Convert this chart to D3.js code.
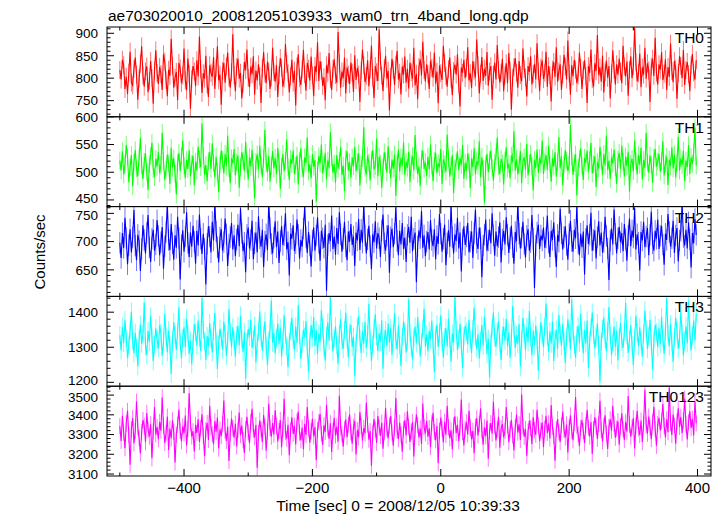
<!DOCTYPE html>
<html>
<head>
<meta charset="utf-8">
<script src="https://cdn.jsdelivr.net/npm/d3@7"></script>
<style>
  html, body { margin: 0; padding: 0; background: #fff; }
  svg { display: block; }
  text { font-family: "Liberation Sans", Arial, Helvetica, sans-serif; fill: #000; }
</style>
</head>
<body>
<svg id="chart" width="724" height="516"></svg>
<script>
// ---- data (2-s bins starting at t = -500 s) ----
const tStart = -500, tStep = 2;
const th0 = [
818,797,841,829,776,803,765,812,859,790,784,821,846,808,752,799,832,871,806,781,815,826,769,794,838,800,743,817,862,811,
787,825,809,774,853,837,796,760,819,805,888,828,779,801,814,751,834,822,789,806,866,795,773,844,810,732,798,827,815,782,
840,804,893,820,767,811,799,850,786,758,829,812,803,847,776,823,871,795,808,741,816,834,790,826,857,802,779,813,898,807,
771,825,843,799,812,755,788,836,818,864,801,780,826,809,849,763,817,795,831,804,745,822,858,811,789,837,815,776,802,868,
814,792,829,758,807,845,823,781,799,876,832,811,768,804,841,790,817,739,826,853,800,785,819,863,809,772,834,821,795,848,
806,760,827,813,880,794,838,817,783,802,751,829,811,856,798,774,821,842,807,790,903,833,779,815,800,846,766,824,808,787,
835,812,769,851,796,823,808,747,817,864,829,791,805,840,782,819,873,801,756,827,813,794,909,838,806,771,822,850,799,816,
728,803,843,819,785,830,861,797,812,764,826,808,848,790,821,777,835,813,799,868,784,810,753,825,842,806,881,818,793,831,
809,776,839,823,801,857,788,815,744,828,811,796,872,834,805,781,820,846,799,762,816,830,808,853,787,737,824,812,841,800,
823,869,795,811,778,838,817,802,886,829,766,810,847,794,821,805,858,783,815,827,752,808,835,797,874,819,790,812,843,771,
806,833,789,856,817,730,801,824,845,812,779,838,807,793,866,820,802,759,827,814,849,786,809,832,797,878,815,771,824,840,
798,812,859,781,827,806,748,819,836,803,869,792,815,831,774,808,852,826,797,884,811,763,829,804,841,819,789,806,857,823,
776,818,840,805,745,827,812,864,798,781,833,816,896,807,824,792,850,768,813,839,801,827,755,810,862,819,786,831,808,843,
815,789,872,826,804,837,761,818,849,800,827,912,835,793,811,855,780,824,808,868,799,833,817,747,826,843,805,890,812,786,
831,819,858,796,810,842,774,825,803,877,816,791,838,821,754,812,849,827,800,863,785,818,836,809,771,829,854,813,797,840
];
const th1 = [
521,503,538,496,514,549,527,482,509,531,475,518,540,507,493,526,562,512,488,519,534,501,468,515,529,553,506,491,524,510,
537,498,513,571,520,486,505,532,516,479,544,508,525,497,460,517,535,502,528,557,511,489,522,506,540,493,514,530,476,519,
503,546,523,509,588,531,495,513,484,520,537,506,552,517,490,528,501,465,514,539,522,498,533,511,566,507,480,525,516,542,
494,518,530,472,509,536,521,502,555,515,487,527,510,541,499,453,519,532,505,548,513,491,524,576,516,500,529,483,512,538,
507,526,496,544,518,470,511,533,502,521,559,509,486,524,515,539,497,512,530,478,520,543,506,492,527,517,563,501,514,489,
533,510,522,447,504,529,516,550,498,513,535,487,521,508,572,526,499,515,481,531,507,520,545,495,512,466,524,538,503,518,
490,527,511,546,502,519,534,476,513,525,581,508,496,530,517,485,522,540,505,511,561,493,528,515,471,509,536,520,499,547,
514,489,523,506,532,457,517,541,501,526,512,554,495,519,508,537,482,516,529,503,567,521,497,510,475,524,539,506,518,493,
528,505,550,512,484,521,535,498,516,509,542,479,523,514,501,568,525,492,511,531,462,507,519,538,504,526,513,549,488,517,
502,534,518,471,525,509,543,496,520,512,556,491,527,506,445,514,533,500,522,539,508,485,517,529,562,511,497,524,516,478,
521,545,507,515,489,530,518,574,503,524,496,513,538,480,519,527,505,551,494,516,533,510,467,522,508,541,499,526,514,557,
497,519,531,504,548,515,483,525,510,536,492,518,563,507,529,476,514,540,521,502,513,585,528,495,517,532,458,509,524,543,
511,486,526,517,539,501,522,553,498,514,529,473,518,507,546,520,495,533,512,566,504,521,488,527,516,541,509,479,523,535,
506,548,519,492,528,511,537,465,515,524,502,557,520,496,531,513,544,487,522,508,571,517,499,530,514,481,526,542,510,519,
533,501,520,556,494,516,528,477,523,511,545,507,532,490,518,564,503,525,513,539,484,521,509,549,497,527,515,536,580,512
];
const th2 = [
698,671,715,689,742,706,660,694,722,681,708,756,693,667,712,701,648,687,729,703,679,716,747,690,664,705,721,684,695,738,
710,676,699,726,652,692,717,766,703,685,731,697,668,711,689,744,706,633,694,720,682,709,752,698,673,716,691,728,700,661,
719,693,748,705,678,714,687,624,696,727,709,681,735,702,770,718,690,663,707,722,684,699,741,713,657,695,708,733,686,711,
674,704,730,692,759,715,683,698,646,712,725,688,703,737,669,697,716,681,745,706,691,721,655,700,713,685,768,724,696,679,
707,736,690,718,662,701,727,694,711,750,686,699,640,714,705,729,683,697,739,712,670,703,691,723,762,708,680,717,693,656,
702,725,684,711,743,698,666,719,706,689,730,613,694,715,701,746,687,709,677,724,696,752,713,682,705,735,691,667,718,700,
731,694,709,657,716,702,740,685,721,698,767,711,679,704,728,692,651,713,699,736,688,715,706,673,720,748,697,684,710,729,
645,708,723,690,714,761,701,676,719,695,733,687,707,664,712,726,698,744,683,705,716,628,692,720,706,754,689,711,674,700,
717,686,738,703,692,722,669,710,696,749,714,682,705,730,658,697,720,691,764,708,679,713,701,742,688,716,647,704,727,694,
709,733,681,700,718,671,715,757,698,687,725,706,637,693,712,739,684,702,721,697,750,711,675,718,692,708,734,663,704,719,
695,743,712,680,706,728,690,661,717,701,769,714,688,707,735,696,672,710,722,684,699,747,705,618,693,716,730,687,711,702,
725,689,707,746,698,673,719,703,734,691,655,712,700,758,715,686,708,727,694,668,713,737,701,682,721,706,763,697,676,714,
690,718,642,705,729,696,712,751,684,703,720,670,708,736,693,716,681,699,744,710,688,632,702,723,695,757,714,679,706,726,
699,715,683,731,704,666,711,741,692,720,707,760,686,713,698,649,717,702,735,690,709,724,676,712,753,697,684,719,705,739,
687,710,728,695,659,714,703,749,717,691,706,737,680,711,724,665,702,719,766,708,693,721,688,734,704,654,715,697,740,712
];
const th3 = [
1334,1291,1358,1312,1377,1326,1269,1305,1349,1402,1318,1283,1341,1299,1246,1323,1365,1310,1337,1428,1302,1279,1346,1315,1388,1331,1260,1308,1354,1322,
1297,1363,1340,1275,1316,1395,1329,1286,1348,1307,1224,1319,1371,1335,1292,1344,1414,1313,1268,1326,1357,1301,1382,1338,1281,1320,1252,1311,1366,1342,
1305,1376,1328,1289,1441,1350,1317,1264,1332,1303,1369,1325,1285,1346,1398,1314,1238,1309,1353,1327,1294,1373,1339,1276,1318,1409,1344,1300,1357,1321,
1272,1335,1361,1306,1390,1324,1287,1343,1210,1315,1352,1330,1379,1298,1322,1362,1257,1311,1345,1402,1328,1290,1336,1374,1304,1249,1319,1351,1433,1313,
1341,1282,1326,1368,1309,1355,1273,1320,1392,1337,1301,1243,1316,1347,1384,1322,1293,1359,1312,1420,1334,1267,1308,1350,1329,1375,1296,1231,1318,1363,
1327,1386,1304,1349,1280,1339,1314,1406,1356,1298,1262,1333,1371,1319,1446,1343,1288,1325,1360,1306,1253,1338,1381,1317,1295,1348,1399,1323,1271,1342,
1364,1301,1330,1218,1312,1358,1389,1326,1283,1345,1310,1372,1297,1336,1424,1320,1261,1307,1353,1394,1331,1289,1340,1316,1377,1239,1324,1349,1303,1368,
1313,1355,1278,1338,1397,1321,1294,1362,1306,1247,1329,1373,1344,1285,1318,1436,1340,1299,1265,1327,1359,1311,1386,1333,1274,1315,1352,1410,1302,1337,
1288,1346,1322,1376,1308,1229,1334,1365,1300,1341,1391,1317,1270,1328,1355,1303,1382,1324,1259,1339,1314,1448,1350,1292,1323,1367,1306,1240,1331,1361,
1344,1309,1378,1321,1284,1352,1413,1330,1296,1337,1268,1318,1363,1305,1387,1342,1280,1325,1213,1311,1356,1399,1328,1301,1345,1374,1312,1263,1334,1358,
1319,1381,1302,1343,1270,1326,1417,1351,1298,1335,1310,1366,1245,1322,1384,1340,1291,1357,1314,1403,1329,1277,1347,1305,1362,1320,1233,1316,1371,1336,
1300,1358,1425,1332,1287,1345,1310,1373,1261,1323,1350,1296,1392,1339,1304,1366,1316,1255,1328,1380,1341,1293,1437,1348,1307,1270,1334,1361,1313,1395,
1325,1283,1349,1311,1376,1241,1320,1355,1399,1336,1297,1330,1368,1306,1202,1317,1352,1385,1324,1289,1346,1415,1333,1277,1314,1359,1301,1348,1262,1329,
1370,1316,1298,1344,1427,1335,1284,1322,1363,1307,1249,1326,1390,1341,1303,1357,1318,1273,1338,1405,1350,1295,1331,1378,1312,1236,1320,1364,1342,1300,
1355,1309,1387,1326,1281,1345,1442,1337,1302,1366,1314,1258,1329,1384,1348,1296,1323,1401,1339,1276,1318,1360,1311,1431,1347,1290,1333,1376,1320,1395
];
const th0123 = [
3342,3268,3395,3310,3231,3356,3420,3298,3147,3327,3384,3255,3318,3467,3336,3282,3204,3312,3373,3345,3261,3409,3325,3290,3352,3180,3316,3440,3301,3338,
3276,3364,3320,3488,3345,3257,3308,3391,3222,3330,3281,3372,3313,3159,3299,3350,3427,3318,3266,3341,3305,3396,3245,3328,3509,3361,3290,3317,3214,3349,
3308,3377,3262,3332,3403,3295,3190,3321,3359,3273,3446,3337,3302,3251,3368,3314,3386,3229,3326,3293,3352,3473,3319,3268,3340,3166,3304,3381,3333,3284,
3355,3240,3323,3412,3297,3346,3272,3207,3329,3390,3311,3256,3364,3430,3322,3286,3348,3132,3307,3371,3325,3263,3399,3340,3218,3315,3456,3334,3289,3358,
3300,3423,3343,3265,3318,3374,3236,3327,3481,3312,3279,3349,3195,3320,3388,3303,3344,3250,3366,3417,3309,3271,3335,3226,3353,3298,3439,3331,3259,3316,
3380,3291,3338,3170,3324,3362,3405,3305,3247,3347,3314,3451,3330,3278,3357,3212,3319,3385,3296,3341,3264,3497,3336,3302,3238,3328,3376,3287,3350,3402,
3311,3254,3339,3368,3199,3322,3287,3414,3343,3269,3333,3306,3462,3351,3274,3317,3142,3309,3379,3326,3258,3394,3337,3293,3360,3228,3314,3436,3332,3280,
3346,3394,3310,3243,3335,3485,3321,3277,3359,3300,3213,3328,3372,3295,3418,3339,3262,3315,3363,3189,3324,3401,3347,3284,3330,3252,3457,3338,3306,3370,
3289,3332,3237,3357,3410,3312,3271,3343,3155,3318,3386,3329,3260,3365,3299,3446,3336,3282,3321,3224,3348,3392,3307,3349,3266,3335,3478,3313,3245,3327,
3362,3301,3420,3334,3275,3319,3205,3340,3383,3296,3354,3433,3322,3248,3337,3292,3371,3178,3316,3358,3304,3466,3344,3270,3325,3390,3233,3331,3353,3286,
3318,3440,3347,3261,3326,3374,3297,3219,3337,3401,3310,3352,3273,3503,3342,3289,3328,3193,3314,3369,3333,3251,3387,3323,3299,3425,3345,3267,3320,3361,
3236,3330,3395,3308,3357,3280,3449,3339,3294,3168,3327,3378,3313,3262,3346,3416,3324,3285,3351,3209,3336,3397,3318,3271,3359,3490,3343,3302,3241,3334,
3372,3317,3256,3348,3426,3335,3290,3363,3201,3328,3389,3341,3278,3354,3471,3323,3265,3344,3398,3306,3227,3338,3377,3319,3445,3352,3284,3330,3367,3249,
3341,3408,3326,3272,3364,3315,3495,3350,3289,3337,3383,3230,3345,3420,3332,3298,3371,3262,3356,3527,3348,3304,3391,3335,3277,3362,3441,3328,3243,3353,
3385,3321,3368,3455,3344,3286,3377,3312,3538,3359,3298,3402,3346,3254,3366,3433,3339,3390,3307,3372,3481,3351,3275,3363,3418,3333,3380,3296,3468,3357
];
const series = [th0, th1, th2, th3, th0123];
const panelNames = ["TH0", "TH1", "TH2", "TH3", "TH0123"];
const errors = [20, 16, 19, 26, 41];
const colors = ["#ff0000", "#00ff00", "#0000ff", "#00ffff", "#ff00ff"];
const yDomains = [[714, 914], [438, 600], [603, 762], [1189, 1445], [3090, 3545]];
const yMajorTicks = [[750, 800, 850, 900], [450, 500, 550, 600], [650, 700, 750], [1200, 1300, 1400], [3100, 3200, 3300, 3400, 3500]];
const yMinorStep = [10, 10, 10, 20, 20];
const xMajorTicks = [-400, -200, 0, 200, 400];
const xMinorTicks = [-500, -300, -100, 100, 300];
const xDomain = [-520, 421];
const titleText = "ae703020010_20081205103933_wam0_trn_4band_long.qdp";
const xLabel = "Time [sec] 0 = 2008/12/05 10:39:33";
const yLabel = "Counts/sec";

// ---- layout ----
const L = 107, R = 711, T = 27, B = 476;
const nP = series.length;
const ph = (B - T) / nP;
const svg = d3.select("#chart");
const x = d3.scaleLinear().domain(xDomain).range([L, R]);
const fmtMinus = v => (v < 0 ? "\u2212" + Math.abs(v) : String(v));
const yLabelItems = [];

series.forEach((vals, i) => {
  const top = T + i * ph, bot = top + ph;
  const y = d3.scaleLinear().domain(yDomains[i]).range([bot, top]);
  const times = vals.map((v, j) => tStart + j * tStep);
  const e = errors[i];

  svg.append("clipPath").attr("id", "clip" + i)
    .append("rect").attr("x", L).attr("y", top).attr("width", R - L).attr("height", ph);

  const g = svg.append("g").attr("clip-path", `url(#clip${i})`);
  // error bars
  g.append("path")
    .attr("d", vals.map((v, j) => `M${x(times[j])},${y(v - e)}V${y(v + e)}`).join(""))
    .attr("stroke", colors[i]).attr("stroke-opacity", 0.55).attr("stroke-width", 1).attr("fill", "none");
  // data line
  g.append("path")
    .datum(vals)
    .attr("d", d3.line().x((v, j) => x(times[j])).y(v => y(v)))
    .attr("stroke", colors[i]).attr("stroke-width", 1.1).attr("fill", "none");

  // frame
  svg.append("rect").attr("x", L).attr("y", top).attr("width", R - L).attr("height", ph)
    .attr("fill", "none").attr("stroke", "#000").attr("stroke-width", 1);

  const tk = svg.append("g").attr("stroke", "#000").attr("stroke-width", 1);
  // x ticks top & bottom (inward)
  xMajorTicks.forEach(t => {
    tk.append("line").attr("x1", x(t)).attr("x2", x(t)).attr("y1", bot).attr("y2", bot - 7);
    tk.append("line").attr("x1", x(t)).attr("x2", x(t)).attr("y1", top).attr("y2", top + 7);
  });
  xMinorTicks.forEach(t => {
    tk.append("line").attr("x1", x(t)).attr("x2", x(t)).attr("y1", bot).attr("y2", bot - 3.5);
    tk.append("line").attr("x1", x(t)).attr("x2", x(t)).attr("y1", top).attr("y2", top + 3.5);
  });
  // y ticks left & right (inward)
  const st = yMinorStep[i];
  const minors = d3.range(Math.ceil(yDomains[i][0] / st) * st, yDomains[i][1], st)
    .filter(v => !yMajorTicks[i].includes(v));
  minors.forEach(v => {
    tk.append("line").attr("x1", L).attr("x2", L + 3.5).attr("y1", y(v)).attr("y2", y(v));
    tk.append("line").attr("x1", R).attr("x2", R - 3.5).attr("y1", y(v)).attr("y2", y(v));
  });
  yMajorTicks[i].forEach(v => {
    tk.append("line").attr("x1", L).attr("x2", L + 7).attr("y1", y(v)).attr("y2", y(v));
    tk.append("line").attr("x1", R).attr("x2", R - 7).attr("y1", y(v)).attr("y2", y(v));
    yLabelItems.push({ text: v, y: y(v) });
  });

  // panel name
  svg.append("text").attr("x", 704).attr("y", top + 16)
    .attr("text-anchor", "end").attr("font-size", "15.5px").text(panelNames[i]);
});

// y tick labels: nudge apart labels that would collide at panel joins
const minGap = 16.5;
yLabelItems.sort((a, b) => a.y - b.y);
for (let k = 1; k < yLabelItems.length; k++) {
  const a = yLabelItems[k - 1], b = yLabelItems[k];
  const gap = b.y - a.y;
  if (gap < minGap) {
    const s = (minGap - gap) / 2;
    a.y -= s; b.y += s;
  }
}
yLabelItems.forEach(d => {
  svg.append("text").attr("x", 98).attr("y", d.y).attr("dy", "0.36em")
    .attr("text-anchor", "end").attr("font-size", "13.5px").text(d.text);
});

// x tick labels
xMajorTicks.forEach(t => {
  svg.append("text").attr("x", x(t)).attr("y", 493).attr("text-anchor", "middle")
    .attr("font-size", "15px").text(fmtMinus(t));
});

// titles
svg.append("text").attr("x", 108).attr("y", 21).attr("font-size", "15.5px").text(titleText);
svg.append("text").attr("x", 398).attr("y", 511).attr("text-anchor", "middle")
  .attr("font-size", "15.5px").text(xLabel);
svg.append("text").attr("transform", "translate(45,252) rotate(-90)")
  .attr("text-anchor", "middle").attr("font-size", "15px").text(yLabel);
</script>
</body>
</html>
